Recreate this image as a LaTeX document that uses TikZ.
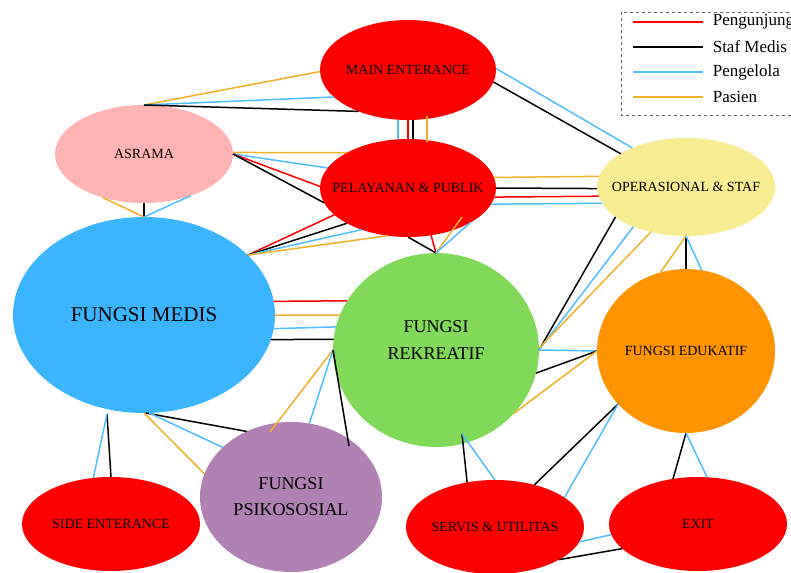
\documentclass[tikz,border=0pt]{standalone}
\usepackage{fontspec}
\setmainfont{Liberation Serif}
\usetikzlibrary{calc}
\usetikzlibrary{shapes.geometric}

\definecolor{lnred}{RGB}{255,0,0}
\definecolor{lnblue}{RGB}{77,190,255}
\definecolor{lnorange}{RGB}{240,176,40}
\definecolor{zpink}{RGB}{255,179,179}
\definecolor{zblue}{RGB}{59,181,255}
\definecolor{zgreen}{RGB}{128,217,88}
\definecolor{zorange}{RGB}{255,148,0}
\definecolor{zyellow}{RGB}{248,237,147}
\definecolor{zpurple}{RGB}{177,128,180}
\newcommand{\zlabel}[1]{\makebox[0pt]{#1}}

\begin{document}
\begin{tikzpicture}[x=1pt,y=-1pt,
  zone/.style={ellipse, inner sep=0pt, outer sep=0pt, font=\fontsize{14}{17}\selectfont},
  lnw/.style={line width=1.5pt},
  pengunjung/.style={lnw, lnred},
  staf/.style={lnw, black},
  pengelola/.style={lnw, lnblue},
  pasien/.style={lnw, lnorange}]
\useasboundingbox (0,0) rectangle (791,572);
\clip (0,0) rectangle (791,572);

\node[zone, fill=red, minimum width=176pt, minimum height=100pt] (main) at (408,70) {\zlabel{MAIN ENTERANCE}};
\node[zone, fill=zpink, minimum width=178pt, minimum height=98pt] (asrama) at (144,154) {\zlabel{ASRAMA}};
\node[zone, fill=red, minimum width=176pt, minimum height=98pt] (pelayanan) at (408,188) {\zlabel{PELAYANAN \& PUBLIK}};
\node[zone, fill=zyellow, minimum width=178pt, minimum height=98pt] (operasional) at (686,187) {\zlabel{OPERASIONAL \& STAF}};
\node[zone, fill=zblue, minimum width=262pt, minimum height=196pt, font=\fontsize{21}{25}\selectfont] (medis) at (144,315) {\zlabel{FUNGSI MEDIS}};
\node[zone, fill=zgreen, minimum width=206pt, minimum height=194pt, font=\fontsize{18}{27}\selectfont] (rekreatif) at (436,350)
  {\zlabel{\begin{tabular}{@{}c@{}}FUNGSI\\REKREATIF\\[18pt]\end{tabular}}};
\node[zone, fill=zorange, minimum width=178pt, minimum height=164pt] (edukatif) at (686,351) {\zlabel{FUNGSI EDUKATIF}};
\node[zone, fill=zpurple, minimum width=182pt, minimum height=150pt, font=\fontsize{18}{26}\selectfont] (psiko) at (291,497)
  {\zlabel{\begin{tabular}{@{}c@{}}FUNGSI\\PSIKOSOSIAL\end{tabular}}};
\node[zone, fill=red, minimum width=178pt, minimum height=94pt] (side) at (111,524) {\zlabel{SIDE ENTERANCE}};
\node[zone, fill=red, minimum width=178pt, minimum height=94pt] (servis) at (495,527) {\zlabel{SERVIS \& UTILITAS}};
\node[zone, fill=red, minimum width=178pt, minimum height=94pt] (exit) at (698,524) {\zlabel{EXIT}};

\draw[pasien] (asrama.90) -- (main.181);
\draw[pengelola] (asrama.90) -- (main.200);
\draw[staf] (asrama.90) -- (main.220);

\draw[pasien] (asrama.1) -- (pelayanan.150);
\draw[pengelola] (asrama.0) -- (pelayanan.166);
\draw[pengunjung] (asrama.0) -- (pelayanan.179);
\draw[staf] (asrama.0) -- (pelayanan.190);

\draw[staf] (asrama.270) -- (medis.90);
\draw[pasien] (asrama.226) -- (medis.90);
\draw[pengelola] (asrama.318) -- (medis.90);

\draw[pengunjung] (medis.30) -- (pelayanan.200);
\draw[staf] (medis.30) -- (pelayanan.210);
\draw[pengelola] (medis.30) -- (pelayanan.222);
\draw[pasien] (medis.30) -- (pelayanan.247);

\draw[pengelola] ($(main.south)+(-10,0)$) -- ($(pelayanan.north)+(-10,0)$);
\draw[pengunjung] (main.south) -- (pelayanan.north);
\draw[staf] ($(main.south)+(5,0)$) -- ($(pelayanan.north)+(5,0)$);
\draw[pasien] ($(main.south)+(19,-4)$) -- ($(pelayanan.north)+(19,3)$);

\draw[pengelola] (main.1) -- (operasional.144);
\draw[staf] (main.352) -- (operasional.153);

\draw[pasien] (pelayanan.7) -- (operasional.173);
\draw[staf] (pelayanan.0) -- (operasional.181);
\draw[pengunjung] (pelayanan.354) -- (operasional.186);
\draw[pengelola] (pelayanan.349) -- (operasional.191);

\draw[staf] (pelayanan.270) -- (rekreatif.90);
\draw[pengunjung] (pelayanan.296) -- (rekreatif.90);
\draw[pasien] ($(pelayanan.center)+(54,29)$) -- (rekreatif.90);
\draw[pengelola] (pelayanan.331) -- (rekreatif.90);

\draw[staf] (operasional.203) -- (rekreatif.0);
\draw[pengelola] (operasional.217) -- (rekreatif.0);
\draw[pasien] (operasional.232) -- (rekreatif.1);

\draw[staf] (operasional.270) -- (edukatif.90);
\draw[pasien] (operasional.270) -- (edukatif.108);
\draw[pengelola] (operasional.270) -- (edukatif.79);

\draw[pengelola] (rekreatif.0) -- (edukatif.180);
\draw[staf] (rekreatif.347) -- (edukatif.180);
\draw[pasien] (rekreatif.321) -- (edukatif.180);

\draw[pengunjung] (medis.6) -- (rekreatif.151);
\draw[pasien] (medis.0) -- (rekreatif.160);
\draw[pengelola] (medis.354) -- (rekreatif.167);
\draw[staf] (medis.349) -- (rekreatif.174);

\draw[pasien] (rekreatif.180) -- ($(psiko.center)+(-21,-65)$);
\draw[pengelola] (rekreatif.180) -- (psiko.76);
\draw[staf] (rekreatif.180) -- ($(psiko.center)+(58,-51)$);

\draw[staf] (medis.271) -- (psiko.124);
\draw[pengelola] (medis.273) -- (psiko.144);
\draw[pasien] (medis.270) -- (psiko.165);

\draw[staf] ($(medis.south)+(-37,1)$) -- (side.90);
\draw[pengelola] ($(medis.south)+(-37,1)$) -- (side.111);

\draw[staf] ($(rekreatif.center)+(26,84)$) -- (servis.122);
\draw[pengelola] ($(rekreatif.center)+(26,84)$) -- (servis.90);

\draw[staf] (edukatif.218) -- (servis.47);
\draw[pengelola] (edukatif.218) -- (servis.23);

\draw[staf] (edukatif.270) -- (exit.119);
\draw[pengelola] (edukatif.270) -- (exit.79);

\draw[pengelola] (servis.350) -- (exit.187);
\draw[staf] (servis.333) -- (exit.198);

\draw[dashed, black!60, line width=0.8pt] (621,12) rectangle (800,115);
\foreach \c/\t [count=\i] in {lnred/Pengunjung, black/Staf Medis, lnblue/Pengelola, lnorange/Pasien} {
 \draw[color=\c, line width=1.6pt] (633,{-3+25*\i}) -- (703,{-3+25*\i})
   node[anchor=west, xshift=9pt, inner sep=0pt, text=black, font=\fontsize{17}{20}\selectfont] (leg\i) {\t};
}
\end{tikzpicture}
\end{document}
